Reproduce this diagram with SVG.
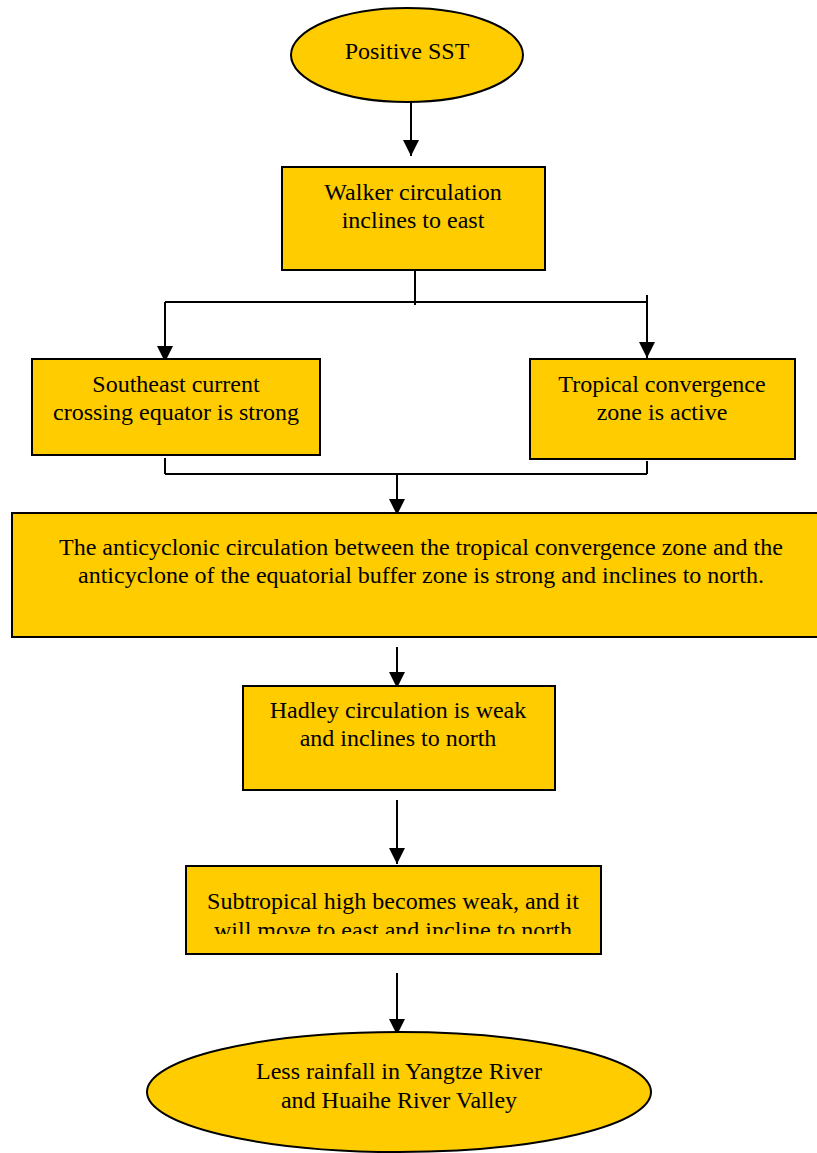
<svg xmlns="http://www.w3.org/2000/svg" width="817" height="1153" viewBox="0 0 817 1153">
<style>
.n{fill:#FFCC00;stroke:#000;stroke-width:2}
.t{font-family:"Liberation Serif","Times New Roman",serif;font-size:24px;fill:#000;text-anchor:middle}
.c{stroke:#000;stroke-width:2;fill:none}
.a{marker-end:url(#ah)}
</style>
<defs>
<marker id="ah" markerUnits="userSpaceOnUse" markerWidth="16" markerHeight="17" refX="16" refY="8" orient="auto" viewBox="0 0 16 16">
<path d="M0,0 L16,8 L0,16 Z" fill="#000"/>
</marker>
<clipPath id="clipSub"><rect x="186" y="867" width="415" height="67"/></clipPath>
</defs>
<rect width="817" height="1153" fill="#fff"/>
<g id="connectors">
<path class="c a" d="M411,92 V156"/>
<path class="c" d="M415,262 V305"/>
<path class="c" d="M165,302 H647"/>
<path class="c a" d="M165,302 V362"/>
<path class="c a" d="M647,295 V358"/>
<path class="c" d="M165,458 V474"/>
<path class="c" d="M647,461 V474"/>
<path class="c" d="M165,474 H647"/>
<path class="c a" d="M397,474 V515"/>
<path class="c a" d="M397,647 V688"/>
<path class="c a" d="M397,800 V864"/>
<path class="c a" d="M397,973 V1035"/>
</g>
<g id="positive-sst">
<ellipse class="n" cx="407" cy="55" rx="116" ry="47"/>
<text class="t" x="407" y="59">Positive SST</text>
</g>
<g id="walker">
<rect class="n" x="282" y="167" width="263" height="103"/>
<text class="t" x="413" y="200">Walker circulation</text>
<text class="t" x="413" y="228">inclines to east</text>
</g>
<g id="southeast">
<rect class="n" x="32" y="359" width="288" height="96"/>
<text class="t" x="176" y="392">Southeast current</text>
<text class="t" x="176" y="420">crossing equator is strong</text>
</g>
<g id="tropical">
<rect class="n" x="530" y="359" width="265" height="100"/>
<text class="t" x="662" y="392">Tropical convergence</text>
<text class="t" x="662" y="420">zone is active</text>
</g>
<g id="anticyclonic">
<rect class="n" x="12" y="513" width="820" height="124"/>
<text class="t" x="421" y="555">The anticyclonic circulation between the tropical convergence zone and the</text>
<text class="t" x="421" y="583">anticyclone of the equatorial buffer zone is strong and inclines to north.</text>
</g>
<g id="hadley">
<rect class="n" x="243" y="686" width="312" height="104"/>
<text class="t" x="398" y="718">Hadley circulation is weak</text>
<text class="t" x="398" y="746">and inclines to north</text>
</g>
<g id="subtropical">
<rect class="n" x="186" y="866" width="415" height="88"/>
<g clip-path="url(#clipSub)">
<text class="t" x="393" y="909">Subtropical high becomes weak, and it</text>
<text class="t" x="393" y="938">will move to east and incline to north</text>
</g>
</g>
<g id="less-rainfall">
<ellipse class="n" cx="399" cy="1092" rx="252" ry="60"/>
<text class="t" x="399" y="1079">Less rainfall in Yangtze River</text>
<text class="t" x="399" y="1108">and Huaihe River Valley</text>
</g>
</svg>
